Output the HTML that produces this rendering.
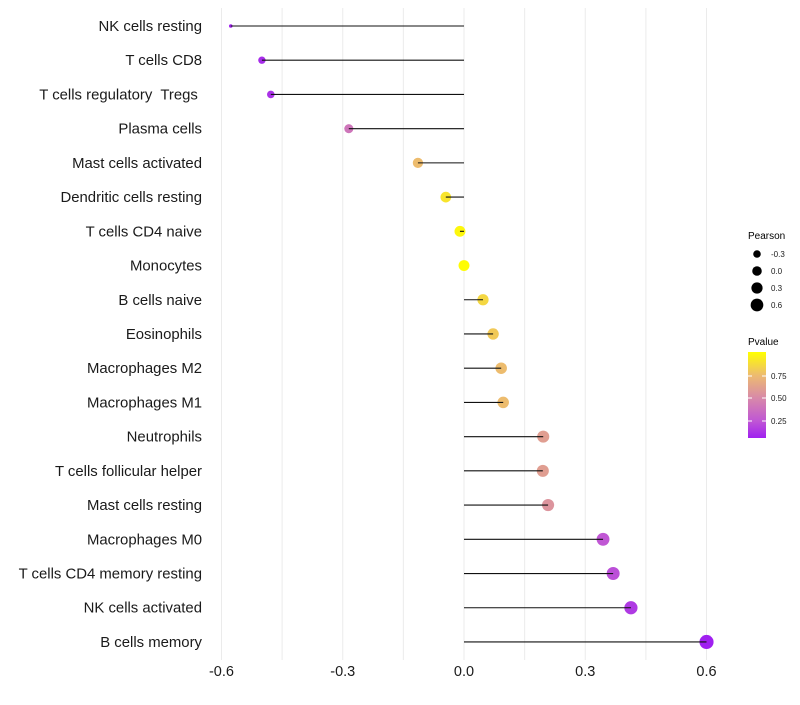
<!DOCTYPE html>
<html><head><meta charset="utf-8"><style>
body{margin:0;background:#fff;font-family:"Liberation Sans",sans-serif;}
</style></head><body>
<svg id="c" width="800" height="700" xmlns="http://www.w3.org/2000/svg">
<defs><linearGradient id="pg" x1="0" y1="1" x2="0" y2="0">
<stop offset="0" stop-color="#A020F0"/><stop offset="0.2" stop-color="#C057D4"/><stop offset="0.47" stop-color="#D88AA8"/><stop offset="0.73" stop-color="#EDBB70"/><stop offset="1" stop-color="#FFFF00"/></linearGradient></defs>
</svg>
<script>
const cells=["NK cells resting","T cells CD8","T cells regulatory  Tregs\u00a0","Plasma cells","Mast cells activated","Dendritic cells resting","T cells CD4 naive","Monocytes","B cells naive","Eosinophils","Macrophages M2","Macrophages M1","Neutrophils","T cells follicular helper","Mast cells resting","Macrophages M0","T cells CD4 memory resting","NK cells activated","B cells memory"];
const pearson=[-0.577,-0.50,-0.478,-0.285,-0.114,-0.045,-0.01,0.0,0.047,0.072,0.092,0.097,0.196,0.195,0.208,0.344,0.369,0.413,0.60];
const pvalue=[0.02,0.1,0.12,0.4,0.75,0.9,0.97,0.99,0.85,0.8,0.75,0.75,0.6,0.6,0.55,0.25,0.22,0.15,0.01];
const xticks=[-0.6,-0.3,0.0,0.3,0.6];
const xgrid=[-0.6,-0.45,-0.3,-0.15,0,0.15,0.3,0.45,0.6];
const NS="http://www.w3.org/2000/svg",svg=document.getElementById('c');
const X=v=>464+v*404.2, Y=i=>26+i*34.22;
const R=v=>v<-0.55?1.8:Math.sqrt(Math.max(4,30+33*v));
const stops=[[0,[160,32,240]],[0.2,[192,87,212]],[0.47,[216,138,168]],[0.73,[237,187,112]],[1,[255,255,0]]];
function col(p){const t=(p-0.06)/0.94;for(let k=1;k<stops.length;k++){if(t<=stops[k][0]||k==stops.length-1){const a=stops[k-1],b=stops[k];let f=(t-a[0])/(b[0]-a[0]);f=Math.max(0,Math.min(1,f));return 'rgb('+a[1].map((c,j)=>Math.round(c+(b[1][j]-c)*f)).join(',')+')';}}}
function el(t,a,p){const e=document.createElementNS(NS,t);for(const k in a)e.setAttribute(k,a[k]);(p||svg).appendChild(e);return e;}
xgrid.forEach(v=>{const l=el('line',{x1:X(v),x2:X(v),y1:8,y2:660,stroke:'#ebebeb','stroke-width':1});

});
xticks.forEach(v=>{const t=el('text',{x:X(v),y:676,'text-anchor':'middle','font-size':14.5,fill:'#1a1a1a'});t.textContent=v.toFixed(1);

});
cells.forEach((c,i)=>{const t=el('text',{x:202,y:Y(i)+5,'text-anchor':'end','font-size':14.9,fill:'#1a1a1a'});t.setAttribute('style','white-space:pre');t.textContent=c;


const d=el('circle',{cx:X(pearson[i]),cy:Y(i),r:R(pearson[i]),fill:col(pvalue[i])});


const l=el('line',{x1:X(0),x2:X(pearson[i]),y1:Y(i),y2:Y(i),stroke:'#111','stroke-width':1.1});

});
const lg=el('g',{});
let t=el('text',{x:748,y:239,'font-size':10,fill:'#000'},lg);t.textContent='Pearson';
[-0.3,0,0.3,0.6].forEach((v,k)=>{const cy=254+k*17;el('circle',{cx:757,cy:cy,r:R(v)-0.7,fill:'#000'},lg);const s=el('text',{x:771,y:cy+3,'font-size':8,fill:'#1a1a1a'},lg);s.textContent=v.toFixed(1);});
t=el('text',{x:748,y:345,'font-size':10,fill:'#000'},lg);t.textContent='Pvalue';
el('rect',{x:748,y:352,width:18,height:86,fill:'url(#pg)'},lg);
[[0.75,376],[0.5,398],[0.25,421]].forEach(([v,y])=>{el('line',{x1:748,x2:752,y1:y,y2:y,stroke:'#fff'},lg);el('line',{x1:762,x2:766,y1:y,y2:y,stroke:'#fff'},lg);const s=el('text',{x:771,y:y+3,'font-size':8,fill:'#1a1a1a'},lg);s.textContent=v.toFixed(2);});
</script>
</body></html>
